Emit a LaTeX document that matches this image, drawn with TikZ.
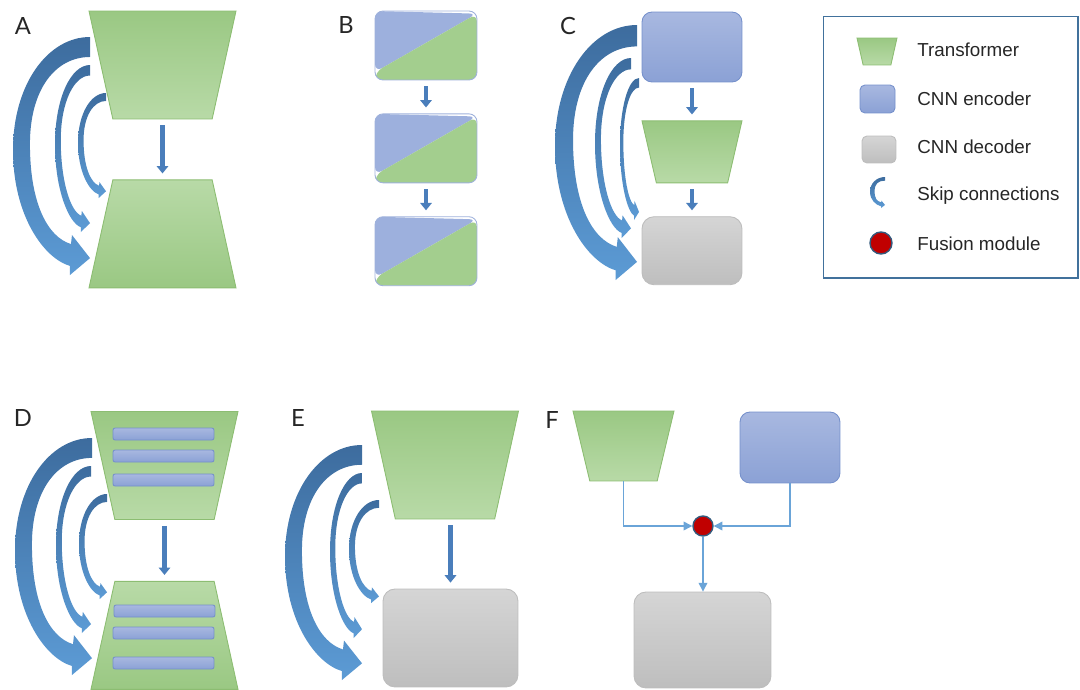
\documentclass[tikz,border=0pt]{standalone}
\usepackage{fontspec}
\setmainfont{Liberation Sans}
\newfontfamily\panelfont{Lato}
\usepackage{tikz}
\usetikzlibrary{arrows.meta,positioning,shapes.geometric}

\definecolor{greendark}{HTML}{9AC883}
\definecolor{greenlight}{HTML}{B8DAA7}
\definecolor{greenedge}{HTML}{8CBD72}
\definecolor{bluetop}{HTML}{A8B8E0}
\definecolor{bluebot}{HTML}{8BA1D5}
\definecolor{blueedge}{HTML}{7590CB}
\definecolor{hybblue}{HTML}{9DB0DD}
\definecolor{hybgreen}{HTML}{A3CE8E}
\definecolor{graytop}{HTML}{D5D5D5}
\definecolor{graybot}{HTML}{BEBEBE}
\definecolor{grayedge}{HTML}{BDBDBD}
\definecolor{skipdark}{HTML}{3D6C9E}
\definecolor{skiplight}{HTML}{5C9BD5}
\definecolor{flowblue}{HTML}{4A7EBB}
\definecolor{linkblue}{HTML}{6AA4D8}
\definecolor{fusered}{HTML}{C00000}
\definecolor{frameblue}{HTML}{41719C}

% curved skip arrow: leftmost x, top y, width, height (pixels), thickness factor
\newcommand{\skiparrow}[5]{%
  \path[skipfill, shift={(#1,#2)}, xscale=#3, yscale=#4]
    (1,0) .. controls (0.45,0) and (0,0.2) .. (0,0.475)
    .. controls (0,0.75) and (0.4,{1-0.07*#5}) .. (0.74,{1-0.038*#5})
    -- (0.74,1) -- (1,{1-0.071*#5}) -- (0.766,{1-0.168*#5}) -- (0.753,{1-0.13*#5})
    .. controls (0.45,{1-0.16*#5}) and ({0.22*#5},0.7) .. ({0.22*#5},0.45)
    .. controls ({0.22*#5},0.22) and (0.55,{0.084*#5}) .. (1,{0.084*#5}) -- cycle;}

\begin{document}
\begin{tikzpicture}[
    x=0.02cm, y=-0.02cm,
    shapebase/.style={inner sep=0pt, line width=0.5pt},
    transenc/.style={shapebase, inner sep=1pt, trapezium, trapezium stretches=true,
                     shape border rotate=180, trapezium angle=76.5,
                     minimum width=2.94cm, minimum height=2.16cm,
                     draw=greenedge, top color=greendark, bottom color=greenlight},
    transdec/.style={transenc, shape border rotate=0,
                     top color=greenlight, bottom color=greendark},
    encoder/.style={shapebase, rectangle, rounded corners=0.2cm,
                    minimum width=2cm, minimum height=1.4cm,
                    draw=blueedge, top color=bluetop, bottom color=bluebot},
    decoder/.style={shapebase, rectangle, rounded corners=0.24cm,
                    draw=grayedge, top color=graytop, bottom color=graybot},
    hybrid/.style={shapebase, rectangle, rounded corners=0.16cm,
                   minimum width=2.04cm, minimum height=1.38cm, draw=blueedge!70,
                   path picture={
                     \fill[hybblue] (path picture bounding box.north west)
                       -- ([yshift=-1.5pt]path picture bounding box.north east)
                       -- ([yshift=4.5pt]path picture bounding box.south west) -- cycle;
                     \fill[hybgreen] ([yshift=-1.5pt]path picture bounding box.north east)
                       -- (path picture bounding box.south east)
                       -- (path picture bounding box.south west)
                       -- ([yshift=4.5pt]path picture bounding box.south west) -- cycle;}},
    tokenbar/.style={shapebase, rectangle, rounded corners=1.2pt,
                     minimum width=2.02cm, minimum height=0.24cm,
                     draw=blueedge, top color=bluetop, bottom color=bluebot},
    fusion/.style={circle, inner sep=0pt, minimum size=0.4cm, fill=fusered,
                   draw=frameblue!80!black, line width=0.8pt},
    flow/.style={draw=flowblue, line width=2.6pt, -{Triangle[width=6.5pt,length=4.2pt]},
                 shorten <=3.4pt, shorten >=3.4pt},
    link/.style={draw=linkblue, line width=0.7pt, -{Triangle[width=5pt,length=5pt]}},
    skipfill/.style={top color=skipdark, bottom color=skiplight},
    panel/.style={font=\panelfont\fontsize{13.5}{14}\selectfont, text=black!85},
    legtext/.style={anchor=west, inner sep=0pt, text=black!85,
                    font=\fontsize{10.7}{12}\selectfont}
  ]
  \useasboundingbox (0,0) rectangle (1080,690);

  %% A: transformer encoder / decoder
  \node[panel] (labA) at (23,26) {A};
  \node[transenc] (a1) at (162.5,65) {};
  \node[transdec, below=1.2cm of a1] (a2) {};
  \draw[flow] (a1) -- (a2);
  \skiparrow{13}{37}{77}{238}{1}
  \skiparrow{55}{65}{35}{167}{0.75}
  \skiparrow{78}{93}{28}{105}{0.9}

  %% B: hybrid blocks
  \node[panel] (labB) at (346,25) {B};
  \node[hybrid] (b1) at (426,45.5) {};
  \node[hybrid, below=0.66cm of b1] (b2) {};
  \node[hybrid, below=0.66cm of b2] (b3) {};
  \draw[flow] (b1) -- (b2);
  \draw[flow] (b2) -- (b3);

  %% C: CNN encoder, transformer, CNN decoder
  \node[panel] (labC) at (568,26) {C};
  \node[encoder] (c1) at (692,47) {};
  \node[transenc, minimum width=2cm, minimum height=1.24cm, trapezium angle=78.6,
        below=0.76cm of c1] (c2) {};
  \node[decoder, minimum width=2cm, minimum height=1.36cm, below=0.66cm of c2] (c3) {};
  \draw[flow] (c1) -- (c2);
  \draw[flow] (c2) -- (c3);
  \skiparrow{555}{25}{82}{255}{1}
  \skiparrow{595}{58}{36}{180}{0.75}
  \skiparrow{620}{78}{19}{142}{0.8}

  %% D: transformer with inner layers
  \node[panel] (labD) at (23,418) {D};
  \node[transenc] (d1) at (164.5,465.5) {};
  \node[transdec, below=1.22cm of d1] (d2) {};
  \foreach \y [count=\i] in {434,456,480}
    \node[tokenbar] (dt\i) at (163.5,\y) {};
  \foreach \x/\y [count=\i] in {164.5/611,163.5/633,163.5/663}
    \node[tokenbar] (db\i) at (\x,\y) {};
  \draw[flow] (d1) -- (d2);
  \skiparrow{15}{438}{77}{237}{1}
  \skiparrow{56}{466}{35}{167}{0.75}
  \skiparrow{79}{494}{28}{105}{0.9}

  %% E: transformer encoder, CNN decoder
  \node[panel] (labE) at (298,418) {E};
  \node[transenc] (e1) at (445,465) {};
  \node[decoder, minimum width=2.7cm, minimum height=1.96cm] (e2) at (450.5,638) {};
  \draw[flow] (e2.north |- e1.south) -- (e2.north);
  \skiparrow{285}{445}{77}{235}{1}
  \skiparrow{330}{473}{32}{165}{0.75}
  \skiparrow{349}{500}{30}{103}{0.9}

  %% F: fusion of two branches
  \node[panel] (labF) at (552,420) {F};
  \node[transenc, minimum width=2.02cm, minimum height=1.4cm, trapezium angle=76]
        (f1) at (623.5,446) {};
  \node[encoder, minimum height=1.42cm] (f2) at (790,447.5) {};
  \node[fusion] (f3) at (703,526) {};
  \node[decoder, minimum width=2.74cm, minimum height=1.92cm] (f4) at (702.5,640) {};
  \draw[link] (f1.south) |- (f3);
  \draw[link] (f2.south) |- (f3);
  \draw[link] (f3) -- (f3 |- f4.north);

  %% Legend
  \node[draw=frameblue, line width=0.6pt, inner sep=0pt,
        minimum width=5.1cm, minimum height=5.24cm] (legend) at (950.5,147) {};
  \node[transenc, minimum width=0.8cm, minimum height=0.54cm, trapezium angle=77.5]
        (k1) at (877,51.5) {};
  \node[encoder, minimum width=0.7cm, minimum height=0.56cm, rounded corners=0.1cm]
        (k2) at (877.5,99) {};
  \node[decoder, minimum width=0.68cm, minimum height=0.54cm, rounded corners=0.1cm]
        (k3) at (879,149.5) {};
  \skiparrow{870}{177}{15}{31}{1.4}
  \node[fusion, minimum size=0.44cm] (k5) at (881,243) {};
  \foreach \t/\y [count=\i] in {Transformer/50, CNN encoder/99, CNN decoder/147,
                                Skip connections/196, Fusion module/244}
    \node[legtext] (t\i) at (917,\y) {\t};

\end{tikzpicture}
\end{document}
